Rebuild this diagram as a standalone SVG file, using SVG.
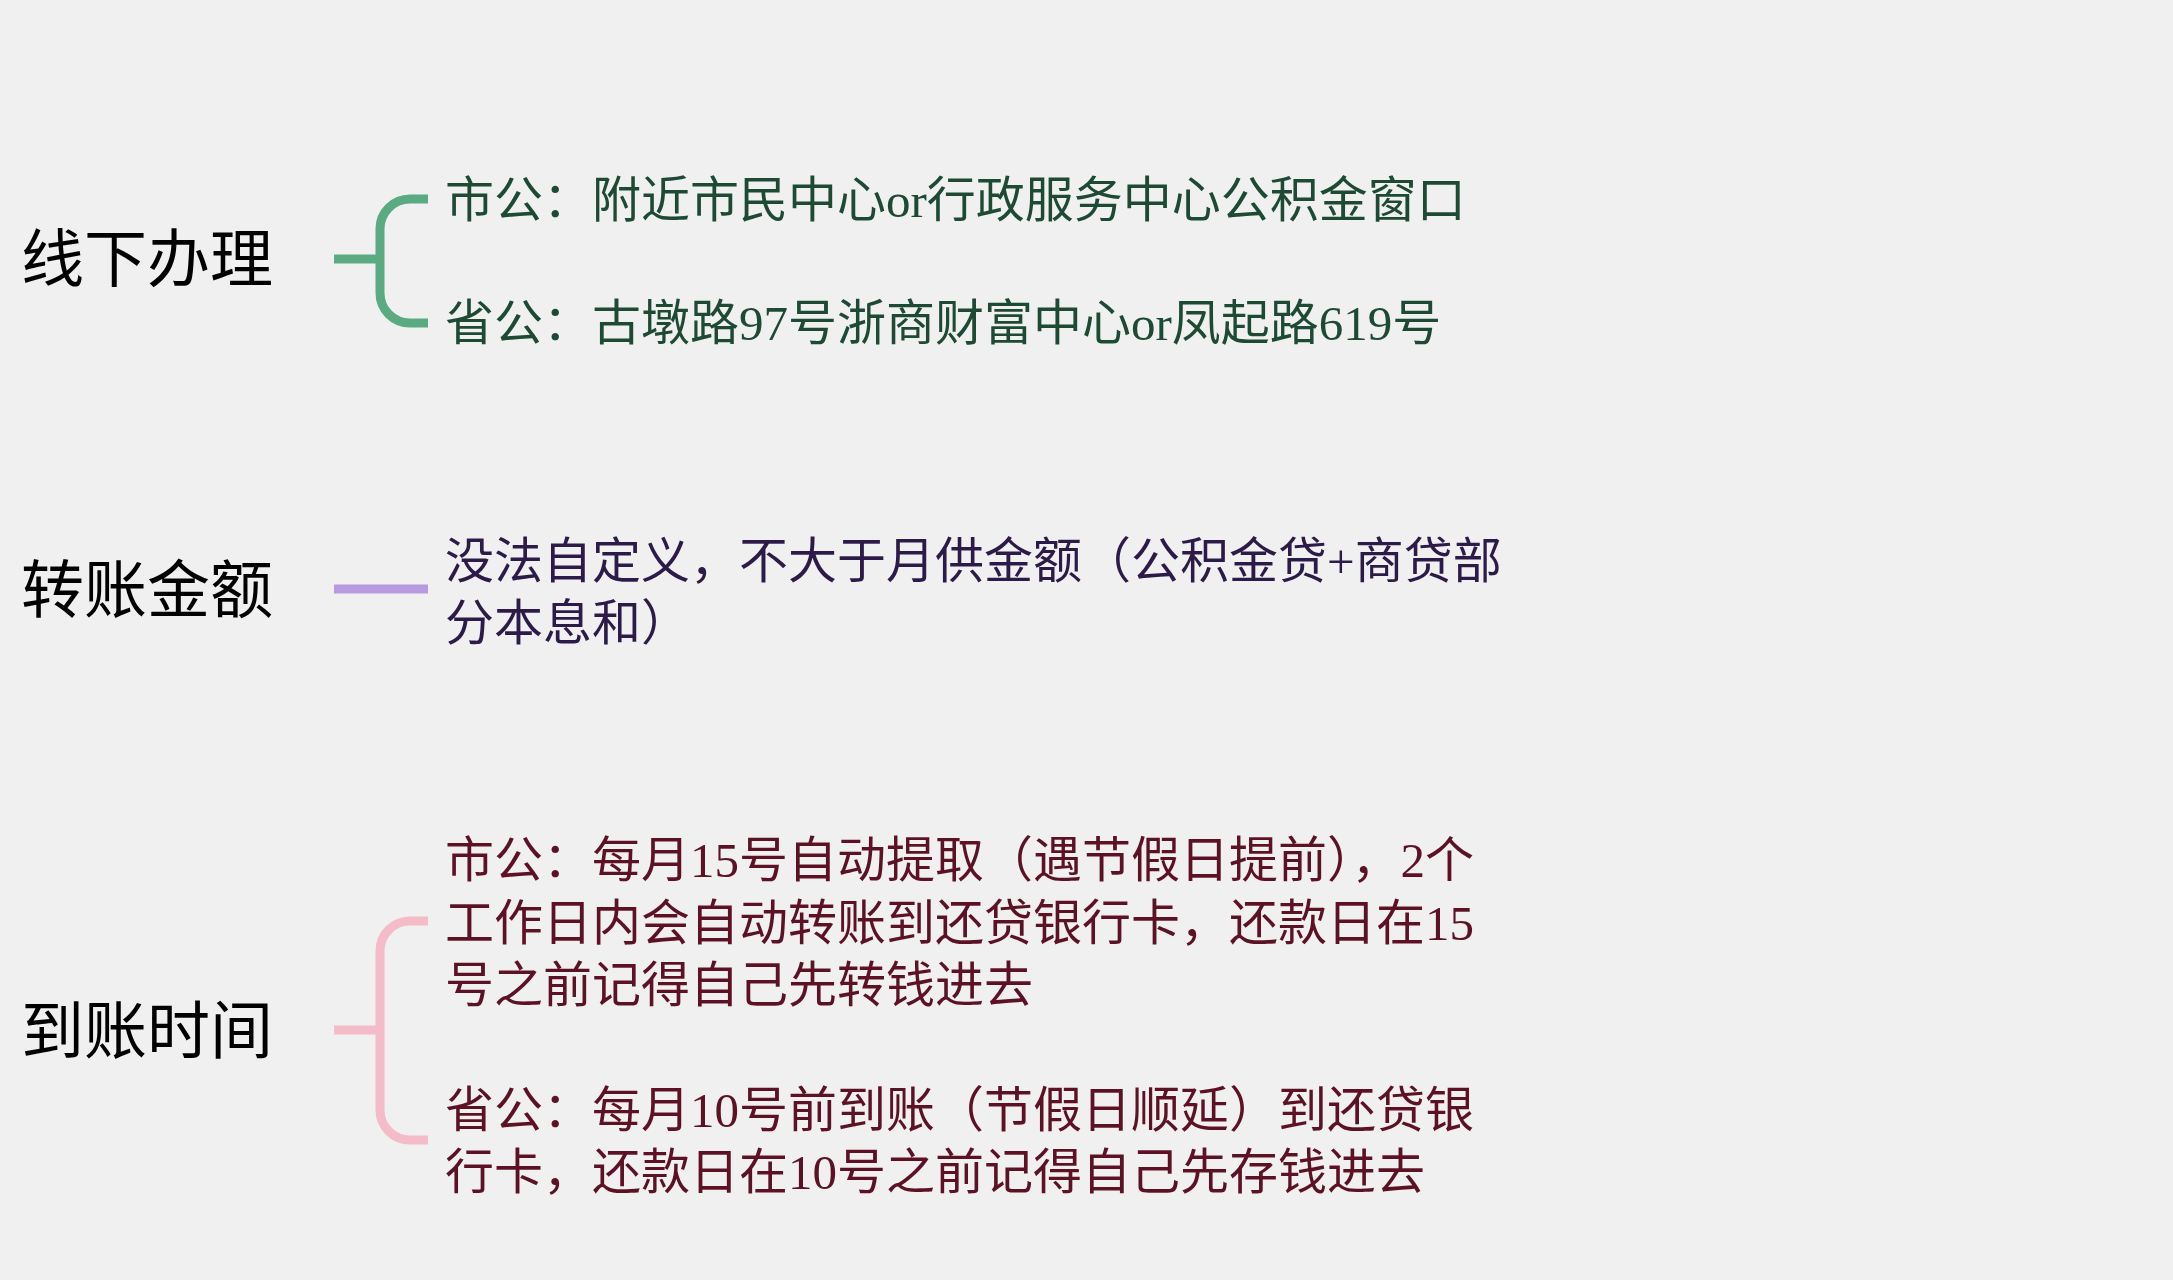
<svg xmlns="http://www.w3.org/2000/svg" width="2173" height="1280" viewBox="0 0 2173 1280">
<style>
.bg{fill:#f0f0f0}
.lbl{font-family:"Noto Sans CJK SC","Noto Sans CJK TC",sans-serif;font-size:63px;fill:#000}
.txt{font-family:"Liberation Serif","Noto Sans CJK SC",serif;font-size:49px}
.g{fill:#1e4a34}
.p{fill:#2c1a48}
.m{fill:#5c1224}
.c{fill:none;stroke-width:9;stroke-linecap:butt}
</style>
<rect class="bg" x="0" y="0" width="2173" height="1280"/>
<g id="connectors">
<path class="c" stroke="#5aaa82" d="M334 259 H380 M428 199 H410 A30 30 0 0 0 380 229 V293 A30 30 0 0 0 410 323 H428"/>
<path class="c" stroke="#b89ade" d="M334 589 H428"/>
<path class="c" stroke="#f4bcc8" d="M334 1030 H380 M428 921 H410 A30 30 0 0 0 380 951 V1110 A30 30 0 0 0 410 1140 H428"/>
</g>
<g id="node-offline">
<text class="lbl" x="21" y="281">线下办理</text>
</g>
<g id="node-offline-city">
<text class="txt g" x="445" y="217">市公：附近市民中心or行政服务中心公积金窗口</text>
</g>
<g id="node-offline-province">
<text class="txt g" x="445" y="340">省公：古墩路97号浙商财富中心or凤起路619号</text>
</g>
<g id="node-amount">
<text class="lbl" x="21" y="612">转账金额</text>
</g>
<g id="node-amount-detail">
<text class="txt p" x="445" y="578">没法自定义，不大于月供金额（公积金贷+商贷部</text>
<text class="txt p" x="445" y="640">分本息和）</text>
</g>
<g id="node-time">
<text class="lbl" x="21" y="1053">到账时间</text>
</g>
<g id="node-time-city">
<text class="txt m" x="445" y="877">市公：每月15号自动提取（遇节假日提前），2个</text>
<text class="txt m" x="445" y="940">工作日内会自动转账到还贷银行卡，还款日在15</text>
<text class="txt m" x="445" y="1002">号之前记得自己先转钱进去</text>
</g>
<g id="node-time-province">
<text class="txt m" x="445" y="1127">省公：每月10号前到账（节假日顺延）到还贷银</text>
<text class="txt m" x="445" y="1189">行卡，还款日在10号之前记得自己先存钱进去</text>
</g>
</svg>
